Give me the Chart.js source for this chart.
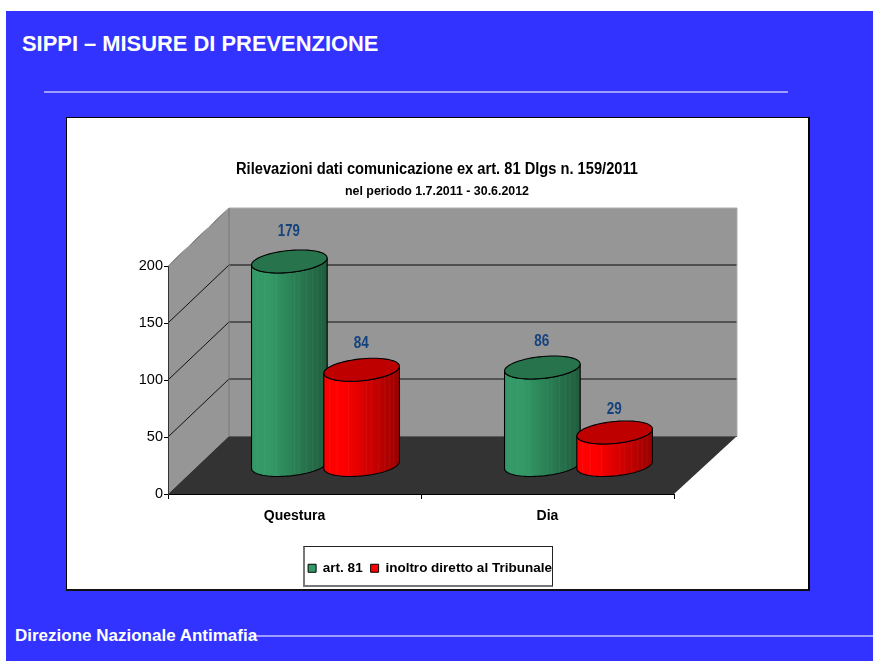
<!DOCTYPE html>
<html><head><meta charset="utf-8">
<script src="https://cdn.jsdelivr.net/npm/chart.js@4"></script>
<style>
html,body{margin:0;padding:0;background:#fff;width:873px;height:661px;overflow:hidden;font-family:"Liberation Sans",Arial,sans-serif}
#slide{position:absolute;left:6px;top:11px;width:867px;height:650px;background:#3333ff}
#head{position:absolute;left:22px;top:31px;color:#fff;font:bold 21.9px "Liberation Sans";white-space:nowrap}
#rule1{position:absolute;left:44px;top:91px;width:744px;height:2px;background:#9d9dff}
#rule2{position:absolute;left:250px;top:635px;width:623px;height:2px;background:#9d9dff}
#foot{position:absolute;left:15px;top:626px;color:#fff;font:bold 17px "Liberation Sans";white-space:nowrap}
#card{position:absolute;left:66px;top:117px;width:741px;height:471px;background:#fff;border:1px solid #000;border-right-width:2px;border-bottom:2px solid #111}
#legbox{position:absolute;left:303px;top:546px;width:247px;height:38px;background:#fff;border:1px solid #222;border-bottom:2px solid #777;border-left:2px solid #777}
canvas{position:absolute;left:0;top:0}
</style></head><body>
<div id="slide"></div>
<div id="rule1"></div><div id="rule2"></div>
<div id="head">SIPPI – MISURE DI PREVENZIONE</div>
<div id="foot">Direzione Nazionale Antimafia</div>
<div id="card"></div><div id="legbox"></div>
<canvas id="c" width="873" height="661"></canvas>
<script>
const categories=["Questura","Dia"];
const seriesNames=["art. 81","inoltro diretto al Tribunale"];
const art81=[179,86];
const inoltro=[84,29];
const chartTitle="Rilevazioni dati comunicazione ex art. 81 Dlgs n. 159/2011";
const chartSubtitle="nel periodo 1.7.2011 - 30.6.2012";
const seriesColors=["#339966","#ff0000"];
const seriesDark=["#1f5c3d","#990000"];
const seriesTop=["#27734c","#bf0000"];

const DX=61,DY=58;
const stripes=[.07,.17,.32,.56,.62,.72,.8,.86,.92];

function cylinder(ctx,cx,by,ty,w,i){
  const a=w/2*.953,b=w/2*.304,t0=Math.atan2(b,a);
  const P=(c,t)=>[cx+a*Math.cos(t)+b*Math.sin(t),c-b*Math.sin(t)];
  const body=()=>{
    ctx.beginPath();
    for(let k=0;k<=48;k++){const p=P(by,t0+Math.PI+Math.PI*k/48);k?ctx.lineTo(p[0],p[1]):ctx.moveTo(p[0],p[1]);}
    for(let k=48;k>=0;k--){const p=P(ty,t0+Math.PI+Math.PI*k/48);ctx.lineTo(p[0],p[1]);}
    ctx.closePath();
  };
  const hw=w/2;
  const g=ctx.createLinearGradient(cx-hw,0,cx+hw,0);
  g.addColorStop(0,seriesColors[i]);
  g.addColorStop(.25,seriesColors[i]);
  g.addColorStop(1,seriesDark[i]);
  ctx.save();body();ctx.fillStyle=g;ctx.fill();
  ctx.clip();
  ctx.fillStyle="rgba(255,255,255,.05)";
  stripes.forEach(s=>ctx.fillRect(cx-hw+s*w,ty-20,1,by-ty+40));
  ctx.restore();
  body();ctx.strokeStyle="#000";ctx.lineWidth=1.1;ctx.stroke();
  ctx.beginPath();
  for(let k=0;k<=64;k++){const p=P(ty,Math.PI*2*k/64);k?ctx.lineTo(p[0],p[1]):ctx.moveTo(p[0],p[1]);}
  ctx.closePath();ctx.fillStyle=seriesTop[i];ctx.fill();ctx.stroke();
}

function place(box,center,width){box.left=center-width/2;box.right=center+width/2;}

const scene={
  id:"scene",
  afterLayout(chart){
    chart.boxes.forEach(b=>{
      if(b.options&&b.options.text===chartTitle)place(b,437,402);
      if(b.options&&b.options.text===chartSubtitle)place(b,437,184);
    });
    place(chart.legend,430,chart.legend.right-chart.legend.left);
  },
  beforeDraw(chart){
    const {ctx}=chart,x=chart.scales.x,y=chart.scales.y;
    const L=x.left,R=x.right,B=y.getPixelForValue(0),T=y.getPixelForValue(y.max);
    ctx.save();
    ctx.fillStyle="#969696";
    ctx.beginPath();ctx.moveTo(L,B);ctx.lineTo(L,T);ctx.lineTo(L+DX,T-DY);ctx.lineTo(R+DX+2,T-DY);ctx.lineTo(R+DX+2,B-DY);ctx.lineTo(L+DX,B-DY);ctx.closePath();ctx.fill();
    ctx.fillStyle="#333333";
    ctx.beginPath();ctx.moveTo(L,B);ctx.lineTo(L+DX,B-DY);ctx.lineTo(R+DX+2,B-DY);ctx.lineTo(R,B);ctx.closePath();ctx.fill();
    y.ticks.forEach(t=>{
      const p=y.getPixelForValue(t.value);
      if(t.value>0){
        ctx.strokeStyle="#111";ctx.lineWidth=1;
        ctx.beginPath();ctx.moveTo(L,p);ctx.lineTo(L+DX,p-DY);
        if(t.value<y.max){ctx.lineTo(R+DX+2,p-DY);}
        ctx.stroke();
      }
    });
    const p150=y.getPixelForValue(150)-DY;
    ctx.strokeStyle="#4e4e4e";ctx.lineWidth=2;ctx.beginPath();ctx.moveTo(L+DX,p150);ctx.lineTo(R+DX+2,p150);ctx.stroke();
    ctx.lineWidth=1;
    ctx.strokeStyle="#adadad";ctx.beginPath();ctx.moveTo(L,T);ctx.lineTo(L+DX,T-DY);ctx.lineTo(R+DX+2,T-DY);ctx.lineTo(R+DX+2,B-DY);ctx.stroke();
    ctx.strokeStyle="#777";ctx.beginPath();ctx.moveTo(L+DX,T-DY);ctx.lineTo(L+DX,B-DY);ctx.stroke();
    ctx.strokeStyle="#5a5a5a";ctx.beginPath();ctx.moveTo(L+DX,B-DY+.5);ctx.lineTo(R+DX+2,B-DY+.5);ctx.stroke();
    ctx.restore();
  },
  beforeDatasetDraw(){return false;},
  afterDatasetsDraw(chart){
    const {ctx}=chart;
    const off=[DX/2+.5,DY/2-.5];
    for(let j=0;j<categories.length;j++){
      [0,1].forEach(i=>{
        const el=chart.getDatasetMeta(i).data[j];
        cylinder(ctx,el.x+off[0],el.base-off[1],el.y-off[1],el.width,i);
      });
    }
    ctx.save();ctx.textAlign="center";ctx.textBaseline="middle";ctx.fillStyle="#14427d";ctx.font='bold 16px "Liberation Sans"';
    for(let j=0;j<categories.length;j++){
      [0,1].forEach(i=>{
        const el=chart.getDatasetMeta(i).data[j],v=chart.data.datasets[i].data[j];
        ctx.fillText(String(v),el.x+off[0]-.5,el.y-off[1]-22-v*.045,v>99?22:15);
      });
    }
    ctx.restore();
  }
};

new Chart(document.getElementById("c"),{
  type:"bar",
  data:{labels:categories,datasets:[
    {label:seriesNames[0],data:art81,backgroundColor:seriesColors[0],borderColor:"#000",borderWidth:1},
    {label:seriesNames[1],data:inoltro,backgroundColor:seriesColors[1],borderColor:"#000",borderWidth:1}
  ]},
  plugins:[scene],
  options:{
    responsive:false,animation:false,
    layout:{padding:{left:0,right:199,top:160,bottom:76}},
    datasets:{bar:{categoryPercentage:.5715,barPercentage:1.046}},
    scales:{
      x:{grid:{drawOnChartArea:false,tickLength:5,color:"#000",offset:true},border:{color:"#000"},
        ticks:{color:"#000",font:{family:"Liberation Sans",weight:"bold",size:14},padding:9,maxRotation:0,autoSkip:false},
        afterFit(s){s.height=661-494-76-s.chart.legend.height;}},
      y:{min:0,max:200,grid:{drawOnChartArea:false,tickLength:4,color:"#000"},border:{color:"#333"},
        ticks:{stepSize:50,color:"#000",font:{family:"Liberation Sans",size:14.5},padding:1},
        afterFit(s){s.width=168;}}
    },
    plugins:{
      tooltip:{enabled:false},
      title:{display:true,text:chartTitle,color:"#000",font:{family:"Liberation Sans",weight:"bold",size:16,lineHeight:1.2},padding:0},
      subtitle:{display:true,text:chartSubtitle,color:"#000",font:{family:"Liberation Sans",weight:"bold",size:12.5,lineHeight:1.2},padding:{top:5,bottom:66.8}},
      legend:{position:"bottom",labels:{color:"#000",font:{family:"Liberation Sans",weight:"bold",size:13.5},boxWidth:8,boxHeight:8,padding:8}}
    }
  }
});
</script>
</body></html>
